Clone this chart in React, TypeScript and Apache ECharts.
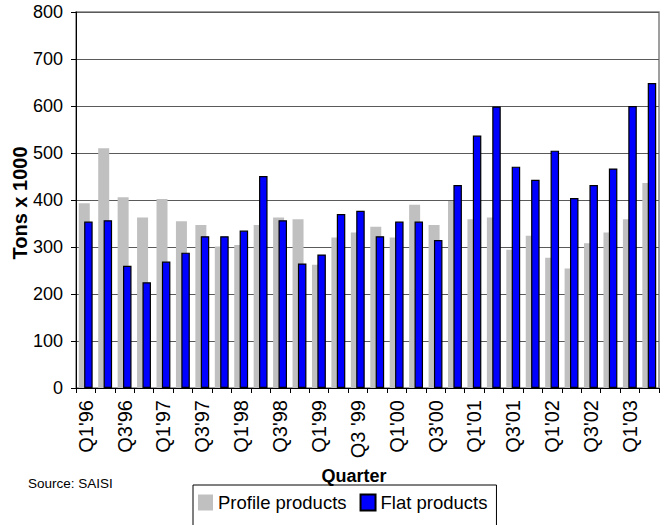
import React, { useEffect, useRef } from "react";
import * as echarts from "echarts";

const categories = [
  "Q1'96", "Q2'96", "Q3'96", "Q4'96",
  "Q1'97", "Q2'97", "Q3'97", "Q4'97",
  "Q1'98", "Q2'98", "Q3'98", "Q4'98",
  "Q1'99", "Q2'99", "Q3 '99", "Q4'99",
  "Q1'00", "Q2'00", "Q3'00", "Q4'00",
  "Q1'01", "Q2'01", "Q3'01", "Q4'01",
  "Q1'02", "Q2'02", "Q3'02", "Q4'02",
  "Q1'03", "Q2'03",
];

const profileProducts = [
  393, 510, 406, 363, 402, 355, 347, 301, 304, 347,
  363, 359, 262, 320, 331, 343, 320, 390, 347, 398,
  359, 363, 294, 324, 277, 254, 308, 331, 359, 436,
];

const flatProducts = [
  354, 357, 260, 225, 269, 288, 323, 323, 335, 451,
  357, 265, 284, 370, 377, 323, 354, 354, 315, 432,
  537, 599, 471, 443, 505, 404, 432, 467, 600, 649,
];

const FONT = "'Liberation Sans', Arial, sans-serif";

export default function App() {
  const ref = useRef<HTMLDivElement>(null);

  useEffect(() => {
    if (!ref.current) return;
    const chart = echarts.init(ref.current, null, { renderer: "svg" });
    chart.setOption({
      animation: false,
      backgroundColor: "#ffffff",
      grid: {
        left: 76,
        right: 5,
        top: 12,
        bottom: 137,
        show: true,
        borderColor: "#808080",
        borderWidth: 1.5,
        containLabel: false,
      },
      legend: {
        left: 193,
        top: 485,
        orient: "horizontal",
        itemWidth: 15,
        itemHeight: 16,
        itemGap: 13,
        padding: [8, 9, 30, 5],
        borderColor: "#000000",
        borderWidth: 1,
        icon: "rect",
        textStyle: { fontFamily: FONT, fontSize: 18.5, color: "#000000" },
        data: ["Profile products", "Flat products"],
      },
      xAxis: {
        type: "category",
        data: categories,
        boundaryGap: true,
        axisLine: { lineStyle: { color: "#000000", width: 1 } },
        axisTick: { show: true, interval: 0, length: 5, lineStyle: { color: "#000000" } },
        axisLabel: {
          interval: 1,
          rotate: 90,
          margin: 12,
          fontFamily: FONT,
          fontSize: 20,
          color: "#000000",
        },
        splitLine: { show: false },
      },
      yAxis: {
        type: "value",
        min: 0,
        max: 800,
        interval: 100,
        axisLine: { show: true, lineStyle: { color: "#000000", width: 1 } },
        axisTick: { show: true, length: 5, lineStyle: { color: "#000000" } },
        axisLabel: {
          margin: 13,
          fontFamily: FONT,
          fontSize: 18,
          color: "#000000",
        },
        splitLine: { show: true, lineStyle: { color: "#5a5a5a", width: 1 } },
      },
      graphic: [
        {
          type: "text",
          x: 20,
          y: 203,
          rotation: Math.PI / 2,
          style: {
            text: "Tons x 1000",
            font: `bold 20px ${FONT}`,
            fill: "#000000",
            textAlign: "center",
            textVerticalAlign: "middle",
          },
        },
        {
          type: "text",
          x: 354,
          y: 476,
          style: {
            text: "Quarter",
            font: `bold 18px ${FONT}`,
            fill: "#000000",
            textAlign: "center",
            textVerticalAlign: "middle",
          },
        },
        {
          type: "text",
          x: 28,
          y: 483,
          style: {
            text: "Source: SAISI",
            font: `13.5px ${FONT}`,
            fill: "#000000",
            textAlign: "left",
            textVerticalAlign: "middle",
          },
        },
      ],
      series: [
        {
          name: "Profile products",
          type: "bar",
          data: profileProducts,
          barWidth: 11,
          barGap: "-51%",
          itemStyle: { color: "#c0c0c0" },
        },
        {
          name: "Flat products",
          type: "bar",
          data: flatProducts,
          barWidth: 8.5,
          barGap: "-51%",
          itemStyle: { color: "#0000ff", borderColor: "#000000", borderWidth: 1.2 },
        },
      ],
    });
    return () => chart.dispose();
  }, []);

  return (
    <div
      ref={ref}
      style={{ position: "absolute", left: 0, top: 0, width: 664, height: 525 }}
    />
  );
}
